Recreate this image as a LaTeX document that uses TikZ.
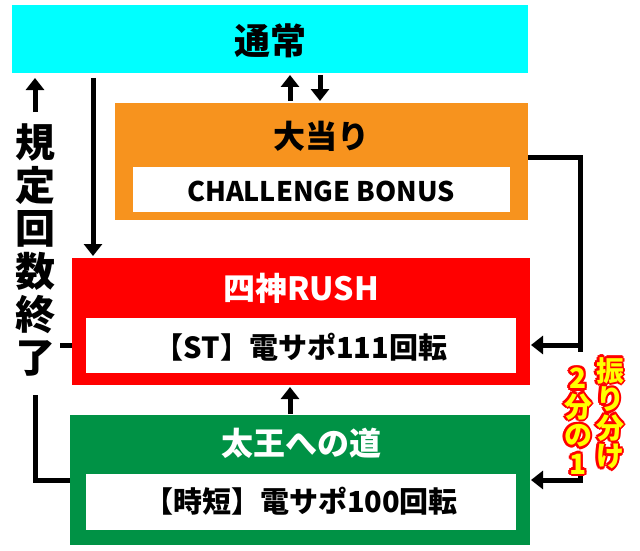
\documentclass[tikz,border=0pt]{standalone}
\usepackage{fontspec}
\newfontfamily\cjk{Noto Sans CJK JP Black}
\usetikzlibrary{arrows.meta}
\definecolor{cyanbox}{RGB}{0,255,255}
\definecolor{orangebox}{RGB}{247,147,30}
\definecolor{redbox}{RGB}{255,0,0}
\definecolor{greenbox}{RGB}{0,146,69}
\definecolor{yel}{RGB}{255,255,0}
\tikzset{
 title/.style={font=\cjk\fontsize{32}{34}\selectfont,inner sep=0},
 inner/.style={font=\cjk\fontsize{29}{30}\selectfont,inner sep=0},
 conn/.style={line width=5pt},
 arr/.style={line width=5pt,-{Triangle[length=12pt,width=18pt]}},
}
\newcommand\outl[3]{%
 \foreach \dx/\dy in {-2.5/0,2.5/0,0/-2.5,0/2.5,-1.8/-1.8,1.8/1.8,-1.8/1.8,1.8/-1.8}{\node[font=\cjk\fontsize{28}{28.5}\selectfont,text=red,inner sep=0,align=center] at ([shift={(\dx pt,\dy pt)}]#1) {#2};}%
 \node[font=\cjk\fontsize{28}{28.5}\selectfont,text=yel,inner sep=0,align=center] (#3) at (#1) {#2};}
\begin{document}
\begin{tikzpicture}[x=1pt,y=-1pt]
\useasboundingbox (0,0) rectangle (640,551);
\fill[cyanbox] (12,5) rectangle (528,73);
\node[title,font=\cjk\fontsize{36}{36}\selectfont] (tsujo) at (270,41) {通常};
\fill[orangebox] (115,103) rectangle (528,220);
\fill[white] (133,167) rectangle (510,212);
\node[title] (oat) at (321,136) {大当り};
\node[inner,font=\cjk\fontsize{27}{28}\selectfont] (cb) at (321,191) {CHALLENGE BONUS};
\fill[redbox] (72,258) rectangle (530,385);
\fill[white] (86,318) rectangle (516,373);
\node[title,text=white] (rush) at (301,288) {四神RUSH};
\node[inner] (st) at (301,347) {【ST】電サポ111回転};
\fill[greenbox] (70,415) rectangle (530,545);
\fill[white] (86,474) rectangle (516,530);
\node[title,text=white] (taio) at (301,443) {太王への道};
\node[inner] (jt) at (301,501) {【時短】電サポ100回転};
\coordinate (a1) at (93,78); \coordinate (a2) at (93,256);
\draw[arr] (a1) -- (a2);
\coordinate (b1) at (290,101); \coordinate (b2) at (290,75);
\draw[arr] (b1) -- (b2);
\coordinate (c1) at (320,75); \coordinate (c2) at (320,101);
\draw[arr] (c1) -- (c2);
\coordinate (d1) at (290,414); \coordinate (d2) at (290,387);
\draw[arr] (d1) -- (d2);
\coordinate (r0) at (528,157); \coordinate (r1) at (580,157); \coordinate (r2) at (580,345); \coordinate (r3) at (531,345);
\draw[arr] (r0) -- (r1) -- (r2) -- (r3);
\coordinate (s1) at (580,330); \coordinate (s2) at (580,480); \coordinate (s3) at (531,480);
\draw[arr] (s1) -- (s2) -- (s3);
\coordinate (l0) at (72,345); \coordinate (l1) at (35,345);
\draw[conn] (l0) -- (l1);
\coordinate (m0) at (70,480); \coordinate (m1) at (35,480); \coordinate (m2) at (35,395);
\draw[conn] (m0) -- (m1) -- (m2);
\coordinate (u1) at (35,112); \coordinate (u2) at (35,78);
\draw[arr] (u1) -- (u2);
\fill[white] (15,115) rectangle (60,390);
\node[font=\cjk\fontsize{40}{43}\selectfont,align=center,inner sep=0] (kitei) at (35,250) {規\\定\\回\\数\\終\\了};
\fill[white] (562,352) rectangle (640,472);
\outl{610,413}{振\\り\\分\\け}{furi}
\outl{578,421}{2\\分\\の\\1}{bun}
\end{tikzpicture}
\end{document}
